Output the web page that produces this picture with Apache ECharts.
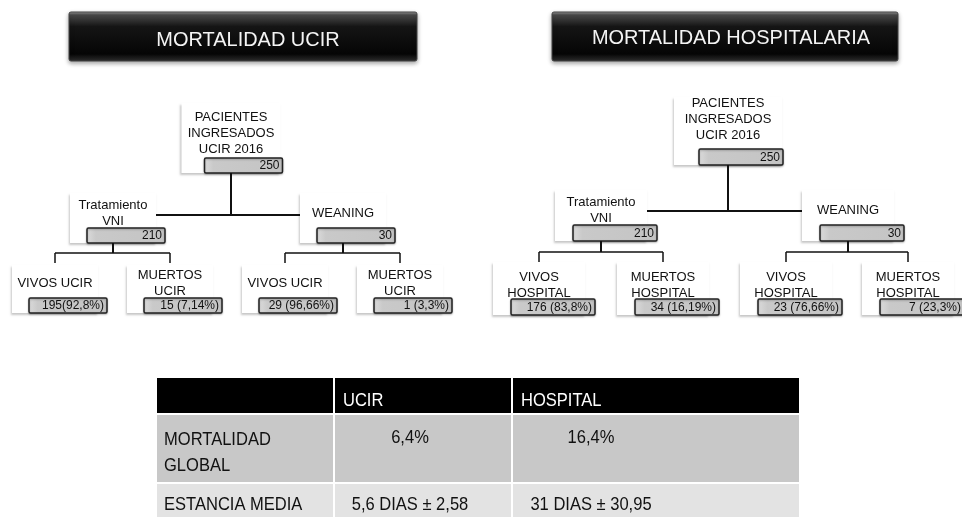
<!DOCTYPE html>
<html>
<head>
<meta charset="utf-8">
<script src="https://cdn.jsdelivr.net/npm/echarts@6/dist/echarts.min.js"></script>
<style>
  html, body { margin: 0; padding: 0; background: #fff; }
  #chart { width: 962px; height: 517px; }
</style>
</head>
<body>
<div id="chart"></div>
<script>
// datos
var panelTitles = ['MORTALIDAD UCIR', 'MORTALIDAD HOSPITALARIA']
var nodeParents = [-1, 0, 0, 1, 1, 2, 2]
var ucirLabels = ['PACIENTES\nINGRESADOS\nUCIR 2016', 'Tratamiento\nVNI', 'WEANING',
  'VIVOS UCIR', 'MUERTOS\nUCIR', 'VIVOS UCIR', 'MUERTOS\nUCIR']
var ucirValues = ['250', '210', '30', '195(92,8%)', '15 (7,14%)', '29 (96,66%)', '1 (3,3%)']
var hospLabels = ['PACIENTES\nINGRESADOS\nUCIR 2016', 'Tratamiento\nVNI', 'WEANING',
  'VIVOS\nHOSPITAL', 'MUERTOS\nHOSPITAL', 'VIVOS\nHOSPITAL', 'MUERTOS\nHOSPITAL']
var hospValues = ['250', '210', '30', '176 (83,8%)', '34 (16,19%)', '23 (76,66%)', '7 (23,3%)']
var tableHeader = ['', 'UCIR', 'HOSPITAL']
var tableRowLabels = ['MORTALIDAD\nGLOBAL', 'ESTANCIA MEDIA']
var ucirStats = ['6,4%', '5,6 DIAS ± 2,58']
var hospStats = ['16,4%', '31 DIAS ± 30,95']

// layout de cada arbol (posiciones, no datos)
var layouts = [
  {
    title: [69, 12, 348, 49], titleX: 248, titleY: 40,
    cx: [231, 113, 343, 55, 170, 285, 400],
    cardW: [99, 86, 86, 86, 86, 86, 86],
    cardTop: [103, 193, 265], boxY: [158, 228, 298], textY: [133, 213, 283],
    boxW: [78, 78, 78, 78, 78, 78, 78], boxOff: [23, 17, 17, 17, 17, 17, 17], boxH: 15,
    joinY: [215, 253], tickY: 263
  },
  {
    title: [552, 12, 346, 49], titleX: 731, titleY: 38,
    cx: [728, 601, 848, 539, 663, 786, 908],
    cardW: [108, 92, 92, 92, 92, 92, 92],
    cardTop: [97, 190, 262], boxY: [149, 225, 299], textY: [119, 210, 285],
    boxW: [84, 84, 84, 84, 84, 84, 84], boxOff: [25, 18, 18, 18, 18, 18, 18], boxH: 16,
    joinY: [211, 252], tickY: 262
  }
]

var FONT = '"Liberation Sans", Arial, Helvetica, sans-serif'

function levelOf (i) {
  var l = 0
  while (nodeParents[i] >= 0) { i = nodeParents[i]; l++ }
  return l
}

function line (x1, y1, x2, y2, w) {
  return {
    type: 'line', z: 5,
    shape: { x1: x1, y1: y1, x2: x2, y2: y2 },
    style: { stroke: '#111', lineWidth: w }
  }
}

function buildTree (lay, title, labels, values) {
  var els = []
  var t = lay.title
  // cabecera negra
  els.push({
    type: 'rect', z: 1,
    shape: { x: t[0], y: t[1], width: t[2], height: t[3], r: 2 },
    style: {
      fill: new echarts.graphic.LinearGradient(0, 0, 0, 1, [
        { offset: 0, color: '#a0a0a0' },
        { offset: 0.07, color: '#4a4a4a' },
        { offset: 0.3, color: '#151515' },
        { offset: 0.85, color: '#050505' },
        { offset: 1, color: '#303030' }
      ]),
      stroke: '#444', lineWidth: 1,
      shadowColor: 'rgba(0,0,0,0.35)', shadowBlur: 4, shadowOffsetY: 2
    }
  })
  els.push({
    type: 'text', z: 2, x: lay.titleX, y: lay.titleY, scaleX: 0.95,
    style: {
      text: title, fill: '#f4f4f4', fontSize: 21, fontFamily: FONT,
      align: 'center', verticalAlign: 'middle'
    }
  })

  labels.forEach(function (lab, i) {
    var lv = levelOf(i)
    var cx = lay.cx[i]
    var cw = lay.cardW[i]
    var left = cx - cw / 2
    var top = lay.cardTop[lv]
    var by = lay.boxY[lv]
    // tarjeta blanca (sombra abajo a la izquierda)
    els.push({
      type: 'rect', z: 2,
      shape: { x: left, y: top, width: cw, height: by + lay.boxH - top },
      style: {
        fill: '#fff',
        shadowColor: 'rgba(0,0,0,0.22)', shadowBlur: 2, shadowOffsetX: -1.5, shadowOffsetY: 1.5
      }
    })
    els.push({
      type: 'text', z: 4, x: cx, y: lay.textY[lv],
      style: {
        text: lab, fill: '#111', fontSize: 13, lineHeight: 16, fontFamily: FONT,
        align: 'center', verticalAlign: 'middle'
      }
    })
    // caja gris con el valor
    var bx = left + lay.boxOff[i]
    var bw = lay.boxW[i]
    els.push({
      type: 'rect', z: 3,
      shape: { x: bx, y: by, width: bw, height: lay.boxH, r: 1.5 },
      style: {
        fill: new echarts.graphic.LinearGradient(0, 0, 1, 0, [
          { offset: 0, color: '#dcdcdc' },
          { offset: 0.12, color: '#c9c9c9' },
          { offset: 1, color: '#c4c4c4' }
        ]),
        stroke: '#222', lineWidth: 1.5,
        shadowColor: 'rgba(0,0,0,0.25)', shadowBlur: 2, shadowOffsetY: 1
      }
    })
    els.push({
      type: 'text', z: 4, x: bx + bw - 3, y: by + lay.boxH / 2 + 0.5,
      style: {
        text: values[i], fill: '#111', fontSize: 12, fontFamily: FONT,
        align: 'right', verticalAlign: 'middle'
      }
    })
  })

  // conectores
  labels.forEach(function (lab, p) {
    var kids = []
    nodeParents.forEach(function (par, k) { if (par === p) kids.push(k) })
    if (!kids.length) return
    var lv = levelOf(p)
    var px = lay.cx[p]
    var y0 = lay.boxY[lv] + lay.boxH
    var jy = lay.joinY[lv]
    var a = kids[0]
    var b = kids[kids.length - 1]
    if (lv === 0) {
      els.push(line(px, y0, px, jy, 2))
      els.push(line(lay.cx[a] + lay.cardW[a] / 2, jy, lay.cx[b] - lay.cardW[b] / 2, jy, 2))
    } else {
      els.push(line(px, y0, px, jy, 2))
      els.push(line(lay.cx[a], jy, lay.cx[b], jy, 1.5))
      kids.forEach(function (k) { els.push(line(lay.cx[k], jy, lay.cx[k], lay.tickY, 1.5)) })
    }
  })
  return els
}

function buildTable () {
  var els = []
  var colX = [157, 334, 512, 799]
  var rowY = [378, 414, 483, 530]
  var fills = ['#000', '#c8c8c8', '#e3e3e3']
  for (var r = 0; r < 3; r++) {
    for (var c = 0; c < 3; c++) {
      els.push({
        type: 'rect', z: 1,
        shape: {
          x: colX[c] + (c ? 1 : 0), y: rowY[r] + (r ? 1 : 0),
          width: colX[c + 1] - colX[c] - (c ? 1 : 0) - (c < 2 ? 1 : 0),
          height: rowY[r + 1] - rowY[r] - (r ? 1 : 0) - 1
        },
        style: { fill: fills[r] }
      })
    }
  }
  tableHeader.forEach(function (h, c) {
    if (!h) return
    els.push({
      type: 'text', z: 2, x: colX[c] + 9, y: 401, scaleX: 0.87,
      style: { text: h, fill: '#fff', fontSize: 19, fontFamily: FONT, verticalAlign: 'middle' }
    })
  })
  var rowTextY = [438, 505]
  tableRowLabels.forEach(function (lab, r) {
    els.push({
      type: 'text', z: 2, x: colX[0] + 7, y: r === 0 ? 453 : rowTextY[r], scaleX: 0.87,
      style: {
        text: lab, fill: '#111', fontSize: 19, lineHeight: 26, fontFamily: FONT,
        verticalAlign: 'middle'
      }
    })
  })
  var valCx = [410, 591]
  ;[ucirStats, hospStats].forEach(function (vals, c) {
    vals.forEach(function (v, r) {
      els.push({
        type: 'text', z: 2, x: valCx[c], y: rowTextY[r], scaleX: 0.87,
        style: {
          text: v, fill: '#111', fontSize: 19, fontFamily: FONT,
          align: 'center', verticalAlign: 'middle'
        }
      })
    })
  })
  return els
}

var chart = echarts.init(document.getElementById('chart'))
chart.setOption({
  backgroundColor: '#fff',
  animation: false,
  graphic: buildTree(layouts[0], panelTitles[0], ucirLabels, ucirValues)
    .concat(buildTree(layouts[1], panelTitles[1], hospLabels, hospValues))
    .concat(buildTable())
})
</script>
</body>
</html>
